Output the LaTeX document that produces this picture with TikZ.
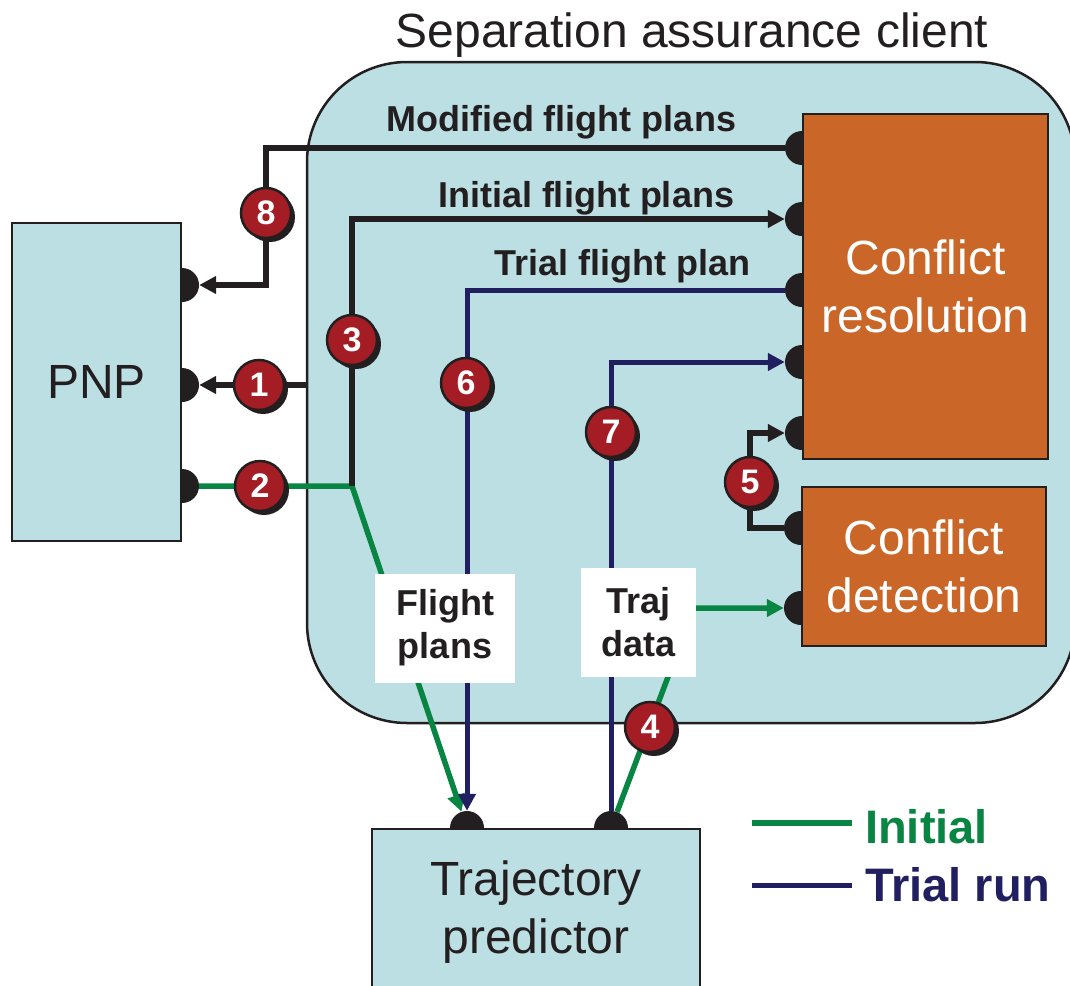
\documentclass[tikz,border=0pt]{standalone}
\usepackage{fontspec}
\setmainfont{Liberation Sans}
\usepackage{xcolor}
\usetikzlibrary{
    arrows.meta,
    shadows,
    positioning
}
\definecolor{boxblue}{RGB}{188,223,227}
\definecolor{boxorange}{RGB}{202,102,40}
\definecolor{badgered}{RGB}{165,29,36}
\definecolor{initgreen}{RGB}{8,133,67}
\definecolor{trialnavy}{RGB}{33,31,95}
\definecolor{inkblack}{RGB}{35,31,32}
\pgfdeclarelayer{bg}
\pgfdeclarelayer{wires}
\pgfsetlayers{bg,wires,main}
\tikzset{%
    >={Triangle[length=17pt,width=17pt]},
    % Specifications for style of nodes:
    base/.style = {
        rectangle, draw=inkblack, line width=2pt,
        align=center, inner sep=0pt, text=inkblack
    },
    client/.style = {base, rounded corners=100pt, line width=2.5pt, fill=boxblue},
    module/.style = {base, fill=boxblue, font=\fontsize{48}{58}\selectfont},
    engine/.style = {module, fill=boxorange, text=white},
    port/.style = {circle, fill=inkblack, minimum size=34pt, inner sep=0pt},
    badge/.style = {
        circle, draw=inkblack, line width=2.5pt, fill=badgered,
        minimum size=50pt, inner sep=0pt, text=white,
        font=\bfseries\fontsize{34}{40}\selectfont,
        drop shadow={shadow xshift=4pt, shadow yshift=-4pt, fill=inkblack, opacity=1}
    },
    tag/.style = {font=\bfseries\fontsize{36}{43}\selectfont, text=inkblack, inner sep=0pt},
    tagbox/.style = {tag, fill=white, align=center},
    legend/.style = {font=\bfseries\fontsize{47}{56}\selectfont, inner sep=0pt},
    wire/.style = {line width=6pt, draw=inkblack},
    initwire/.style = {line width=5.5pt, draw=initgreen},
    trialwire/.style = {line width=5pt, draw=trialnavy}
}
\begin{document}
\begin{tikzpicture}[x=1pt, y=-1pt]
\useasboundingbox (0,0) rectangle (1070,985);

% client area
\begin{pgfonlayer}{bg}
    \node[client, minimum width=768pt, minimum height=661pt] (sac) at (691,392.5) {};
\end{pgfonlayer}
\node[text=inkblack, font=\fontsize{48}{56}\selectfont, anchor=base] (head) at (692,47) {Separation assurance client};

% modules
\node[module, minimum width=169pt, minimum height=318pt] (pnp) at (96.5,382) {PNP};
\node[engine, minimum width=245pt, minimum height=345pt] (cr) at (925.5,286.5) {Conflict\\resolution};
\node[engine, minimum width=244pt, minimum height=159pt] (cd) at (924,566) {Conflict\\detection};
\node[module, minimum width=328pt, minimum height=166pt] (tp) at (536,912) {Trajectory\\predictor};

% flow labels
\node[tag, anchor=base] (lmod) at (561,131) {Modified flight plans};
\node[tag, anchor=base] (linit) at (586,207) {Initial flight plans};
\node[tag, anchor=base] (ltrial) at (622,275) {Trial flight plan};
\node[tagbox, minimum width=140pt, minimum height=109pt] (lfp) at (445,628) {Flight\\plans};
\node[tagbox, minimum width=115pt, minimum height=109pt] (ltd) at (638.5,622.5) {Traj\\data};

% step numbers
\node[badge] (n1) at (259,385) {1};
\node[badge] (n2) at (260,486) {2};
\node[badge] (n3) at (352,340) {3};
\node[badge] (n4) at (650,727) {4};
\node[badge] (n5) at (750,482) {5};
\node[badge] (n6) at (466,383) {6};
\node[badge] (n7) at (611,432) {7};
\node[badge] (n8) at (266,213) {8};

\coordinate (split) at (352,486);
\coordinate (bend) at (694,608);

% ports and wires
\begin{pgfonlayer}{wires}
    \foreach \n/\y in {A/285, B/385, C/486}
        \node[port] (pnp\n) at (pnp.east |- 0,\y) {};
    \foreach \n/\y in {A/148, B/219, C/290, D/362, E/433}
        \node[port] (cr\n) at (cr.west |- 0,\y) {};
    \foreach \n/\y in {A/528, B/608}
        \node[port] (cd\n) at (cd.west |- 0,\y) {};
    \foreach \n/\x in {A/467, B/611}
        \node[port] (tp\n) at (tp.north -| \x,0) {};

    \draw[wire,->] (crA) -| (n8.center) |- (pnpA);
    \draw[wire,->] (sac.west |- pnpB) -- (pnpB);
    \draw[initwire,->] (pnpC) -- (split) -- (tpA);
    \draw[wire,->] (split) |- (crB);
    \draw[initwire,->] (tpB) -- (bend) -- (cdB);
    \draw[wire,->] (cdA) -| (n5.center) |- (crE);
    \draw[trialwire,->] (crC) -| (tpA);
    \draw[trialwire,->] (tpB) |- (crD);
\end{pgfonlayer}

% legend
\node[legend, text=initgreen, anchor=west] (kinit) at (865,827) {Initial};
\node[legend, text=trialnavy, anchor=west] (ktrial) at (865,885) {Trial run};
\draw[initwire] ([xshift=-13pt,yshift=4pt]kinit.west) -- ++(-100,0);
\draw[trialwire] ([xshift=-13pt]ktrial.west) -- ++(-100,0);
\end{tikzpicture}
\end{document}
